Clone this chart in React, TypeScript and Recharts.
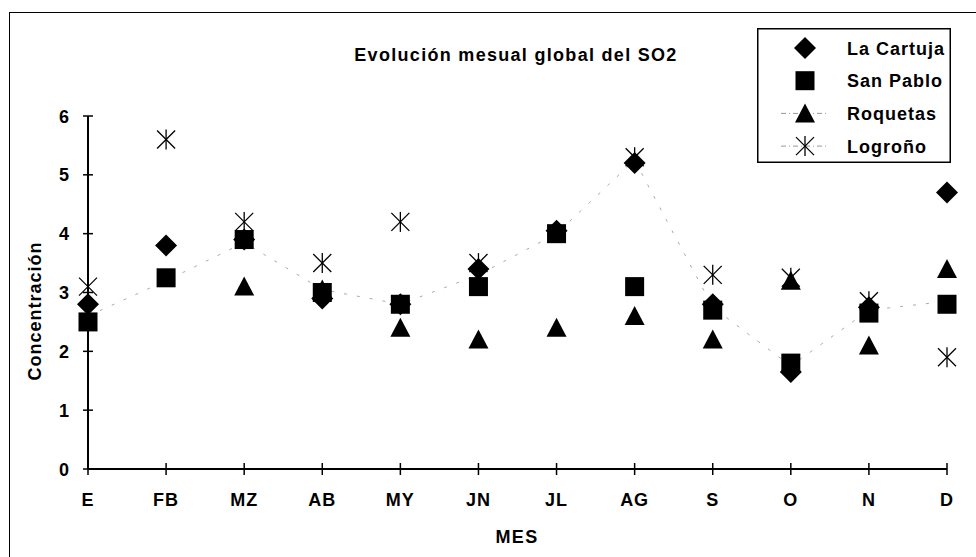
import React from "react";
import { LineChart, Line, XAxis, YAxis, Legend } from "recharts";

const months = ["E", "FB", "MZ", "AB", "MY", "JN", "JL", "AG", "S", "O", "N", "D"];
const laCartuja = [2.8, 3.8, 3.9, 2.9, 2.8, 3.4, 4.05, 5.2, 2.8, 1.65, 2.75, 4.7];
const sanPablo = [2.5, 3.25, 3.9, 3.0, 2.8, 3.1, 4.0, 3.1, 2.7, 1.8, 2.65, 2.8];
const roquetas = [null, null, 3.1, 3.05, 2.4, 2.2, 2.4, 2.6, 2.2, 3.2, 2.1, 3.4];
const logrono = [3.1, 5.6, 4.2, 3.5, 4.2, 3.5, null, 5.3, 3.3, 3.25, 2.85, 1.9];
// faint dashed line visible behind the markers
const tendencia = [2.6, 3.2, 3.85, 3.05, 2.8, 3.3, 4.0, 5.25, 2.75, 1.75, 2.7, 2.85];
const yTicks = [0, 1, 2, 3, 4, 5, 6];

const data = months.map((m, i) => ({
  mes: m,
  laCartuja: laCartuja[i],
  sanPablo: sanPablo[i],
  roquetas: roquetas[i],
  logrono: logrono[i],
  tendencia: tendencia[i],
}));

const FONT = "Arial, 'Liberation Sans', sans-serif";
const textStyle = { fontFamily: FONT, fontWeight: "bold", fontSize: 18, letterSpacing: 1 };

type ShapeName = "diamond" | "square" | "triangle" | "star";

function Marker({ shape, x, y }: { shape: ShapeName; x: number; y: number }) {
  if (shape === "diamond") {
    return <polygon points={`${x},${y - 11} ${x + 11},${y} ${x},${y + 11} ${x - 11},${y}`} fill="#000" />;
  }
  if (shape === "square") {
    return <rect x={x - 9.5} y={y - 9.5} width={19} height={19} fill="#000" />;
  }
  if (shape === "triangle") {
    return <polygon points={`${x},${y - 10} ${x + 10},${y + 9} ${x - 10},${y + 9}`} fill="#000" />;
  }
  return (
    <g stroke="#000" strokeWidth={1.3}>
      <line x1={x} y1={y - 10} x2={x} y2={y + 10} />
      <line x1={x - 9} y1={y - 9} x2={x + 9} y2={y + 9} />
      <line x1={x - 9} y1={y + 9} x2={x + 9} y2={y - 9} />
    </g>
  );
}

const makeDot = (shape: ShapeName) => (props: any) => {
  const { cx, cy, value, index } = props;
  if (value == null || cx == null || cy == null) return <g key={`${shape}-${index}`} />;
  return (
    <g key={`${shape}-${index}`}>
      <Marker shape={shape} x={cx} y={cy} />
    </g>
  );
};

const YTick = ({ x, y, payload }: any) => (
  <g>
    <line x1={x - 5} x2={x + 5} y1={y} y2={y} stroke="#000" strokeWidth={1.5} />
    <text x={x - 18} y={y + 6.5} textAnchor="end" fill="#000" style={textStyle}>
      {payload.value}
    </text>
  </g>
);

const XTick = ({ x, y, payload }: any) => (
  <g>
    <line x1={x} x2={x} y1={y - 6} y2={y + 6} stroke="#000" strokeWidth={1.5} />
    <text x={x} y={y + 37} textAnchor="middle" fill="#000" style={textStyle}>
      {payload.value}
    </text>
  </g>
);

const legendItems: { name: string; shape: ShapeName; dashed: boolean }[] = [
  { name: "La Cartuja", shape: "diamond", dashed: false },
  { name: "San Pablo", shape: "square", dashed: false },
  { name: "Roquetas", shape: "triangle", dashed: true },
  { name: "Logroño", shape: "star", dashed: true },
];

const LegendBox = () => (
  <svg width={194} height={135} style={{ display: "block" }}>
    <rect x={0.75} y={0.75} width={192.5} height={133.5} fill="#fff" stroke="#000" strokeWidth={1.5} />
    {legendItems.map((it, i) => {
      const cy = 20 + i * 32.7;
      return (
        <g key={it.name}>
          {it.dashed && (
            <line x1={24} x2={72} y1={cy} y2={cy} stroke="#999" strokeWidth={1} strokeDasharray="5 3 1 3" />
          )}
          <Marker shape={it.shape} x={48} y={cy} />
          <text x={90} y={cy + 6.5} fill="#000" style={textStyle}>
            {it.name}
          </text>
        </g>
      );
    })}
  </svg>
);

export default function App() {
  return (
    <div
      style={{
        position: "fixed",
        left: 0,
        top: 0,
        width: 976,
        height: 557,
        background: "#fff",
        overflow: "hidden",
      }}
    >
      {/* partial outer frame of the scanned figure */}
      <div
        style={{
          position: "absolute",
          left: 9,
          top: 12,
          width: 1000,
          height: 600,
          borderLeft: "1.5px solid #000",
          borderTop: "1.5px solid #000",
        }}
      />
      <div style={{ position: "absolute", left: 0, top: 0 }}>
        <LineChart width={976} height={557} data={data} margin={{ top: 116, right: 29, bottom: 0, left: 28 }}>
          <XAxis
            dataKey="mes"
            height={88}
            axisLine={{ stroke: "#000", strokeWidth: 2 }}
            tickLine={false}
            tickSize={0}
            tickMargin={0}
            tick={<XTick />}
            interval={0}
          />
          <YAxis
            domain={[0, 6]}
            ticks={yTicks}
            width={60}
            axisLine={{ stroke: "#000", strokeWidth: 2 }}
            tickLine={false}
            tickSize={0}
            tickMargin={0}
            tick={<YTick />}
          />
          <Legend
            layout="vertical"
            align="center"
            verticalAlign="middle"
            content={() => <LegendBox />}
            wrapperStyle={{ position: "absolute", left: 757, top: 28, width: 194, height: 135 }}
          />
          <Line
            dataKey="tendencia"
            stroke="#aaaaaa"
            strokeWidth={1}
            strokeDasharray="3 10"
            dot={false}
            activeDot={false}
            legendType="none"
            isAnimationActive={false}
          />
          <Line dataKey="laCartuja" name="La Cartuja" stroke="none" dot={makeDot("diamond")} activeDot={false} isAnimationActive={false} />
          <Line dataKey="sanPablo" name="San Pablo" stroke="none" dot={makeDot("square")} activeDot={false} isAnimationActive={false} />
          <Line dataKey="roquetas" name="Roquetas" stroke="none" dot={makeDot("triangle")} activeDot={false} isAnimationActive={false} />
          <Line dataKey="logrono" name="Logroño" stroke="none" dot={makeDot("star")} activeDot={false} isAnimationActive={false} />
        </LineChart>
      </div>
      <div
        style={{
          position: "absolute",
          left: 316,
          top: 46,
          width: 400,
          textAlign: "center",
          lineHeight: "18px",
          ...textStyle,
          letterSpacing: 1.3,
        }}
      >
        Evolución mesual global del SO2
      </div>
      <div
        style={{
          position: "absolute",
          left: 35,
          top: 311,
          transform: "translate(-50%, -50%) rotate(-90deg)",
          whiteSpace: "nowrap",
          lineHeight: "18px",
          ...textStyle,
        }}
      >
        Concentración
      </div>
      <div
        style={{
          position: "absolute",
          left: 417,
          top: 528,
          width: 200,
          textAlign: "center",
          lineHeight: "18px",
          ...textStyle,
          letterSpacing: 1.3,
        }}
      >
        MES
      </div>
    </div>
  );
}
